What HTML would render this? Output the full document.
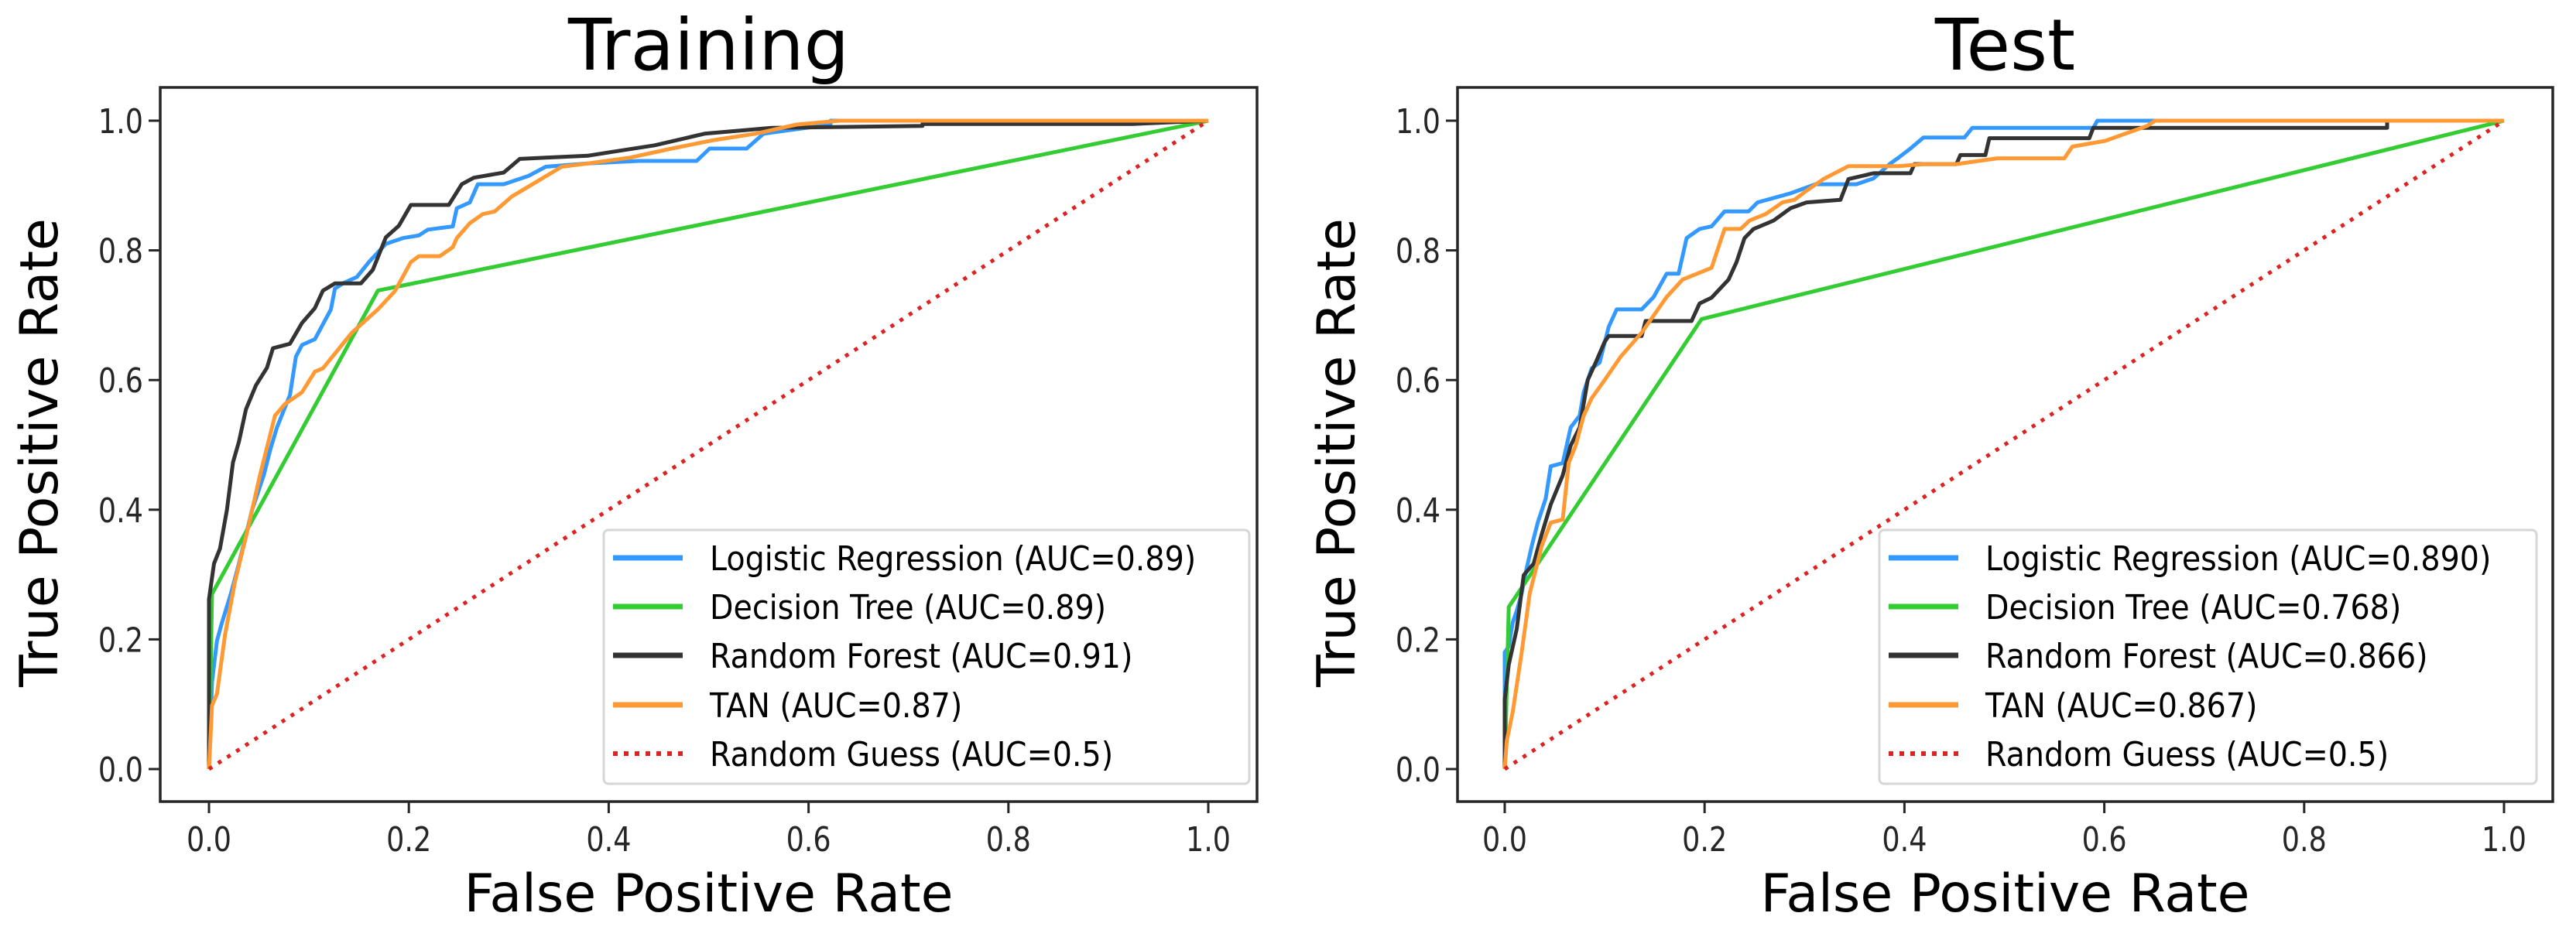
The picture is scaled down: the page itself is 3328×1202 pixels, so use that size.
<!DOCTYPE html>
<html><head><meta charset="utf-8"><style>
html,body{margin:0;padding:0;background:#fff;}
svg{display:block;font-family:"DejaVu Sans","Liberation Sans",sans-serif;}
</style></head><body>
<svg id="chart" width="3328" height="1202" viewBox="0 0 3328 1202" xmlns="http://www.w3.org/2000/svg"></svg>
<script>
// ---- data ----
const xTicks = [0, 0.2, 0.4, 0.6, 0.8, 1.0];
const yTicks = [0, 0.2, 0.4, 0.6, 0.8, 1.0];
const tickLabels = ["0.0","0.2","0.4","0.6","0.8","1.0"];
const seriesNames = ["Logistic Regression","Decision Tree","Random Forest","TAN","Random Guess"];
const trainAUC = ["0.89","0.89","0.91","0.87","0.5"];
const testAUC = ["0.890","0.768","0.866","0.867","0.5"];

const trainLR_fpr = [0,0.003,0.008,0.013,0.022,0.030,0.043,0.055,0.061,0.068,0.081,0.087,0.093,0.106,0.114,0.122,0.126,0.135,0.148,0.160,0.177,0.194,0.210,0.219,0.244,0.248,0.261,0.269,0.295,0.320,0.337,0.379,0.430,0.488,0.501,0.538,0.555,0.622,0.622,1];
const trainLR_tpr = [0,0.134,0.198,0.226,0.271,0.317,0.399,0.454,0.491,0.527,0.577,0.636,0.654,0.663,0.686,0.709,0.741,0.750,0.759,0.782,0.810,0.819,0.823,0.832,0.837,0.865,0.874,0.902,0.902,0.915,0.929,0.934,0.938,0.938,0.957,0.957,0.980,0.994,1,1];
const trainDT_fpr = [0,0.003,0.169,1];
const trainDT_tpr = [0,0.27,0.738,1];
const trainRF_fpr = [0,0,0.005,0.011,0.018,0.024,0.030,0.037,0.047,0.058,0.064,0.081,0.093,0.106,0.114,0.126,0.152,0.164,0.177,0.190,0.202,0.240,0.253,0.265,0.295,0.311,0.337,0.379,0.404,0.446,0.496,0.563,0.714,0.714,0.924,1];
const trainRF_tpr = [0,0.262,0.317,0.340,0.400,0.473,0.505,0.555,0.592,0.619,0.649,0.656,0.688,0.711,0.738,0.749,0.749,0.770,0.820,0.838,0.870,0.870,0.902,0.912,0.920,0.941,0.943,0.946,0.952,0.962,0.980,0.989,0.992,0.995,0.995,1];
const trainTAN_fpr = [0,0.003,0.008,0.016,0.026,0.039,0.051,0.066,0.076,0.093,0.106,0.114,0.143,0.169,0.186,0.202,0.210,0.231,0.244,0.248,0.261,0.274,0.286,0.303,0.328,0.353,0.379,0.421,0.463,0.505,0.547,0.588,0.631,1];
const trainTAN_tpr = [0,0.098,0.116,0.207,0.289,0.371,0.453,0.545,0.563,0.581,0.613,0.618,0.673,0.709,0.737,0.782,0.791,0.791,0.805,0.819,0.842,0.856,0.860,0.883,0.906,0.929,0.934,0.943,0.957,0.970,0.980,0.994,1,1];

const testLR_fpr = [0,0,0.004,0.008,0.012,0.017,0.021,0.027,0.033,0.041,0.046,0.058,0.062,0.066,0.075,0.079,0.087,0.095,0.104,0.112,0.137,0.149,0.162,0.174,0.182,0.195,0.207,0.220,0.244,0.253,0.286,0.311,0.352,0.369,0.386,0.394,0.406,0.419,0.460,0.468,0.589,0.593,1];
const testLR_tpr = [0,0.180,0.189,0.226,0.244,0.271,0.303,0.344,0.380,0.417,0.467,0.472,0.499,0.527,0.545,0.581,0.618,0.627,0.682,0.709,0.709,0.728,0.764,0.764,0.819,0.833,0.837,0.860,0.860,0.874,0.888,0.902,0.902,0.911,0.934,0.943,0.957,0.974,0.974,0.989,0.989,1,1];
const testDT_fpr = [0,0.004,0.197,1];
const testDT_tpr = [0,0.25,0.694,1];
const testRF_fpr = [0,0,0.004,0.012,0.019,0.029,0.037,0.046,0.058,0.066,0.075,0.083,0.091,0.100,0.104,0.137,0.141,0.187,0.195,0.207,0.224,0.232,0.240,0.249,0.269,0.286,0.302,0.336,0.344,0.369,0.406,0.410,0.452,0.456,0.481,0.485,0.585,0.589,0.883,0.883,1];
const testRF_tpr = [0,0.107,0.161,0.216,0.299,0.317,0.362,0.408,0.453,0.499,0.527,0.600,0.627,0.659,0.668,0.668,0.691,0.691,0.718,0.727,0.755,0.782,0.819,0.833,0.846,0.865,0.874,0.878,0.910,0.919,0.919,0.933,0.933,0.947,0.947,0.973,0.973,0.989,0.989,1,1];
const testTAN_fpr = [0,0.002,0.008,0.017,0.025,0.037,0.046,0.058,0.064,0.071,0.079,0.087,0.100,0.116,0.137,0.162,0.178,0.207,0.220,0.236,0.245,0.261,0.278,0.290,0.302,0.319,0.344,0.394,0.419,0.452,0.493,0.560,0.568,0.601,0.643,0.651,1];
const testTAN_tpr = [0,0.043,0.088,0.180,0.271,0.344,0.380,0.385,0.472,0.499,0.545,0.572,0.600,0.636,0.673,0.728,0.755,0.773,0.833,0.833,0.846,0.856,0.874,0.878,0.892,0.910,0.930,0.930,0.933,0.933,0.942,0.942,0.960,0.969,0.992,1,1];
const guess_fpr = [0,1];
const guess_tpr = [0,1];

const colors = ["#3399ff","#33cc33","#333333","#ff9933","#dd2222"];
const NS = "http://www.w3.org/2000/svg";
const svg = document.getElementById("chart");

function mk(tag, attrs, parent){
  const e = document.createElementNS(NS, tag);
  for (const k in attrs) e.setAttribute(k, attrs[k]);
  (parent||svg).appendChild(e);
  return e;
}

function panel(cfg){
  const g = mk("g", {});
  
  
  const X0 = cfg.x0, XW = 1291, Y0 = 994, YH = 838;
  const sx = v => X0 + v * XW;
  const sy = v => Y0 - v * YH;
  const bx = cfg.boxL, bw = cfg.boxR - cfg.boxL;
  const t = mk("text", {x: (cfg.boxL+cfg.boxR)/2, y: 90, "text-anchor":"middle", "font-size":92, fill:"#000"}, g);
  t.textContent = cfg.title;
  
  
  const sets = cfg.series;
  for (let i = 0; i < sets.length; i++){
    const [fx, ty] = sets[i];
    let d = "";
    for (let j = 0; j < fx.length; j++) d += (j ? "L" : "M") + sx(fx[j]).toFixed(1) + "," + sy(ty[j]).toFixed(1);
    const attrs = {d: d, fill:"none", stroke: colors[i], "stroke-width": 5, "stroke-linejoin":"round"};
    if (i === 4) { attrs["stroke-dasharray"] = "5,9"; attrs["stroke-width"] = 5; }
    const p = mk("path", attrs, g);
    
    
  }
  const fr = mk("rect", {x: bx, y: 113, width: bw, height: 923, fill:"none", stroke:"#262626", "stroke-width":3.5}, g);
  
  
  for (let i = 0; i < xTicks.length; i++){
    const x = sx(xTicks[i]);
    const tk = mk("line", {x1:x, x2:x, y1:1036, y2:1051, stroke:"#262626", "stroke-width":3}, g);
    
    
    const lb = mk("text", {transform:"translate(" + x + ",1100) scale(0.83,1)", "text-anchor":"middle", "font-size":44, fill:"#262626"}, g);
    lb.textContent = tickLabels[i];
    
    
  }
  for (let i = 0; i < yTicks.length; i++){
    const y = sy(yTicks[i]);
    const tk = mk("line", {x1:bx-15, x2:bx, y1:y, y2:y, stroke:"#262626", "stroke-width":3}, g);
    
    
    const lb = mk("text", {transform:"translate(" + (bx-22) + "," + (y+16) + ") scale(0.83,1)", "text-anchor":"end", "font-size":44, fill:"#262626"}, g);
    lb.textContent = tickLabels[i];
    
    
  }
  const xl = mk("text", {x:(cfg.boxL+cfg.boxR)/2, y:1178, "text-anchor":"middle", "font-size":68, fill:"#000"}, g);
  xl.textContent = "False Positive Rate";
  
  
  const yl = mk("text", {transform:"translate(" + (cfg.boxL-133) + ",585) rotate(-90)", "text-anchor":"middle", "font-size":68, fill:"#000"}, g);
  yl.textContent = "True Positive Rate";
  
  
  const lg = mk("g", {}, g);
  
  
  const lr = mk("rect", {x: cfg.legL, y: 685, width: cfg.legR - cfg.legL, height: 328, rx:6, fill:"#fff", "fill-opacity":0.85, stroke:"#d6d6d6", "stroke-width":3}, lg);
  
  
  const base = [737, 800, 863, 927, 990];
  for (let i = 0; i < 5; i++){
    const ly = base[i] - 16;
    const la = {x1: cfg.legL + 12, x2: cfg.legL + 102, y1: ly, y2: ly, stroke: colors[i], "stroke-width": 7};
    if (i === 4) { la["stroke-dasharray"] = "6,8"; la["stroke-width"] = 6; }
    const ln = mk("line", la, lg);
    
    
    const tx = mk("text", {transform:"translate(" + (cfg.legL + 137) + "," + base[i] + ") scale(0.9,1)", "font-size":44, fill:"#000"}, lg);
    tx.textContent = seriesNames[i] + " (AUC=" + cfg.auc[i] + ")";
    
    
  }
}

panel({key:"training", title:"Training", x0:270, boxL:207, boxR:1624, legL:780, legR:1614, auc:trainAUC,
  series:[[trainLR_fpr,trainLR_tpr],[trainDT_fpr,trainDT_tpr],[trainRF_fpr,trainRF_tpr],[trainTAN_fpr,trainTAN_tpr],[guess_fpr,guess_tpr]]});
panel({key:"test", title:"Test", x0:1944, boxL:1883, boxR:3298, legL:2428, legR:3277, auc:testAUC,
  series:[[testLR_fpr,testLR_tpr],[testDT_fpr,testDT_tpr],[testRF_fpr,testRF_tpr],[testTAN_fpr,testTAN_tpr],[guess_fpr,guess_tpr]]});
</script>
</body></html>
